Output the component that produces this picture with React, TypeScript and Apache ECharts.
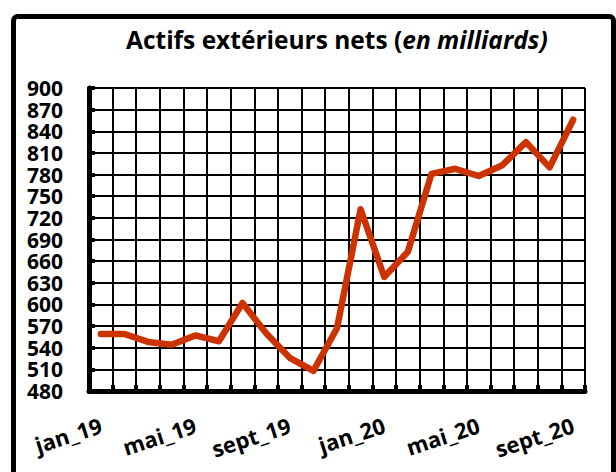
import React, { useEffect, useRef } from "react";
import * as echarts from "echarts";

const categories = [
  "jan_19", "févr_19", "mars_19", "avr_19", "mai_19", "juin_19", "juil_19", "août_19",
  "sept_19", "oct_19", "nov_19", "déc_19", "jan_20", "févr_20", "mars_20", "avr_20",
  "mai_20", "juin_20", "juil_20", "août_20", "sept_20",
];
const values = [559, 559, 548, 544, 557, 549, 602, 560, 526, 508, 567, 732, 638, 673, 781, 788, 778, 793, 825, 790, 856];
const yMin = 480;
const yMax = 900;
const yStep = 30;

const FONT = "'Open Sans', 'Noto Sans', sans-serif";

export default function App() {
  const ref = useRef<HTMLDivElement>(null);
  useEffect(() => {
    if (!ref.current) return;
    const chart = echarts.init(ref.current, undefined, { renderer: "svg" });
    chart.setOption({
      animation: false,
      backgroundColor: "#ffffff",
      title: {
        text: "{b|Actifs extérieurs nets (}{i|en milliards)}",
        left: 121,
        top: 22,
        textStyle: {
          rich: {
            b: { fontFamily: FONT, fontWeight: "bold", fontSize: 24.5, color: "#000" },
            i: { fontFamily: FONT, fontWeight: "bold", fontStyle: "italic", fontSize: 24.5, color: "#000" },
          },
        },
      },
      graphic: [
        {
          type: "rect",
          shape: { x: 13.5, y: 16.5, width: 600, height: 520, r: 4 },
          style: { fill: "none", stroke: "#000", lineWidth: 5 },
          silent: true,
          z: 10,
        },
      ],
      grid: { left: 89, top: 88, width: 496, height: 303, containLabel: false },
      xAxis: {
        type: "category",
        data: categories,
        boundaryGap: true,
        axisLine: { show: true, lineStyle: { color: "#000", width: 5, cap: "round" } },
        axisTick: { show: true, inside: true, length: 6, interval: 0, lineStyle: { color: "#000", width: 4 } },
        splitLine: { show: true, interval: 0, lineStyle: { color: "#000", width: 2 } },
        axisLabel: {
          interval: 3,
          rotate: 18,
          margin: 33,
          fontFamily: FONT,
          fontWeight: "bold",
          fontSize: 22,
          color: "#000",
        },
      },
      yAxis: {
        type: "value",
        min: yMin,
        max: yMax,
        interval: yStep,
        axisLine: { show: true, lineStyle: { color: "#000", width: 5, cap: "round" } },
        axisTick: { show: true, inside: true, length: 6, lineStyle: { color: "#000", width: 4 } },
        splitLine: { show: true, lineStyle: { color: "#000", width: 2 } },
        axisLabel: {
          margin: 26,
          fontFamily: FONT,
          fontWeight: "bold",
          fontSize: 21,
          lineHeight: 20,
          color: "#000",
        },
      },
      series: [
        {
          type: "line",
          data: values,
          symbol: "none",
          lineStyle: { color: "#CC3300", width: 6.5, cap: "round", join: "round" },
          z: 5,
        },
      ],
    });
    return () => chart.dispose();
  }, []);
  return (
    <div
      ref={ref}
      style={{ position: "fixed", left: 0, top: 0, width: 616, height: 472 }}
    />
  );
}
